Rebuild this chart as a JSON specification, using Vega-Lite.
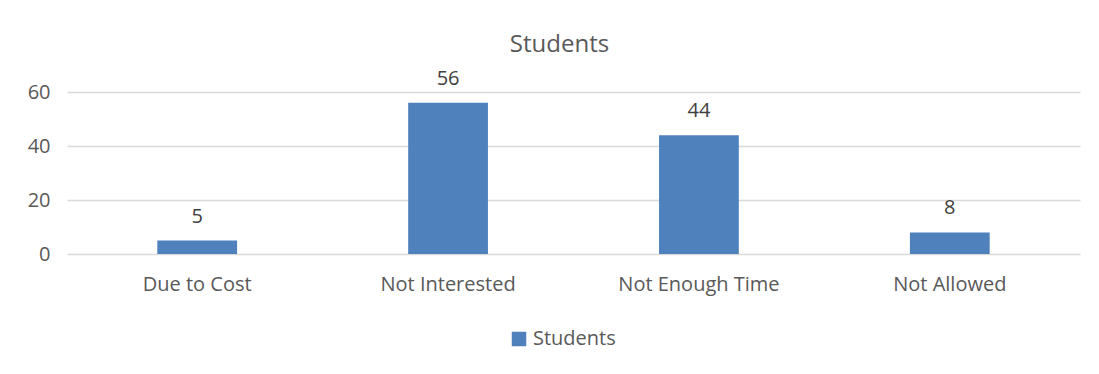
{
  "$schema": "https://vega.github.io/schema/vega-lite/v6.json",
  "autosize": {"type": "none"},
  "width": 1013,
  "height": 162,
  "padding": {"left": 67, "top": 92, "right": 19, "bottom": 120},
  "background": "white",
  "config": {
    "view": {"stroke": null},
    "font": "Open Sans"
  },
  "title": {
    "text": "Students",
    "anchor": "middle",
    "fontSize": 24,
    "fontWeight": "normal",
    "color": "#595959",
    "font": "Open Sans",
    "offset": 12,
    "dx": -14,
    "frame": "group"
  },
  "data": {
    "values": [
      {"reason": "Due to Cost", "students": 5, "series": "Students"},
      {"reason": "Not Interested", "students": 56, "series": "Students"},
      {"reason": "Not Enough Time", "students": 44, "series": "Students"},
      {"reason": "Not Allowed", "students": 8, "series": "Students"}
    ]
  },
  "encoding": {
    "x": {
      "field": "reason",
      "type": "nominal",
      "sort": null,
      "scale": {"paddingInner": 0.682, "paddingOuter": 0.36},
      "axis": {
        "title": null,
        "labelAngle": 0,
        "domain": false,
        "ticks": false,
        "labelFontSize": 20,
        "labelColor": "#595959",
        "labelPadding": 20,
        "labelFont": "Open Sans"
      }
    },
    "y": {
      "field": "students",
      "type": "quantitative",
      "scale": {"domain": [0, 60], "nice": false},
      "axis": {
        "title": null,
        "values": [0, 20, 40, 60],
        "domain": false,
        "ticks": false,
        "grid": true,
        "gridColor": "#d9d9d9",
        "gridWidth": 1.3,
        "labelFontSize": 20,
        "labelColor": "#595959",
        "labelPadding": 17,
        "labelFont": "Open Sans"
      }
    }
  },
  "layer": [
    {
      "mark": {"type": "bar", "strokeWidth": 0},
      "encoding": {
        "color": {
          "field": "series",
          "type": "nominal",
          "scale": {"range": ["#4f81bd"]},
          "legend": {
            "title": null,
            "orient": "none",
            "legendX": 442,
            "legendY": 237,
            "symbolType": "square",
            "symbolSize": 210,
            "labelFontSize": 20,
            "labelColor": "#595959",
            "labelFont": "Open Sans",
            "labelOffset": 4
          }
        }
      }
    },
    {
      "mark": {"type": "text", "dy": -24, "fontSize": 20, "color": "#404040", "font": "Open Sans"},
      "encoding": {
        "text": {"field": "students", "type": "quantitative"}
      }
    }
  ]
}
